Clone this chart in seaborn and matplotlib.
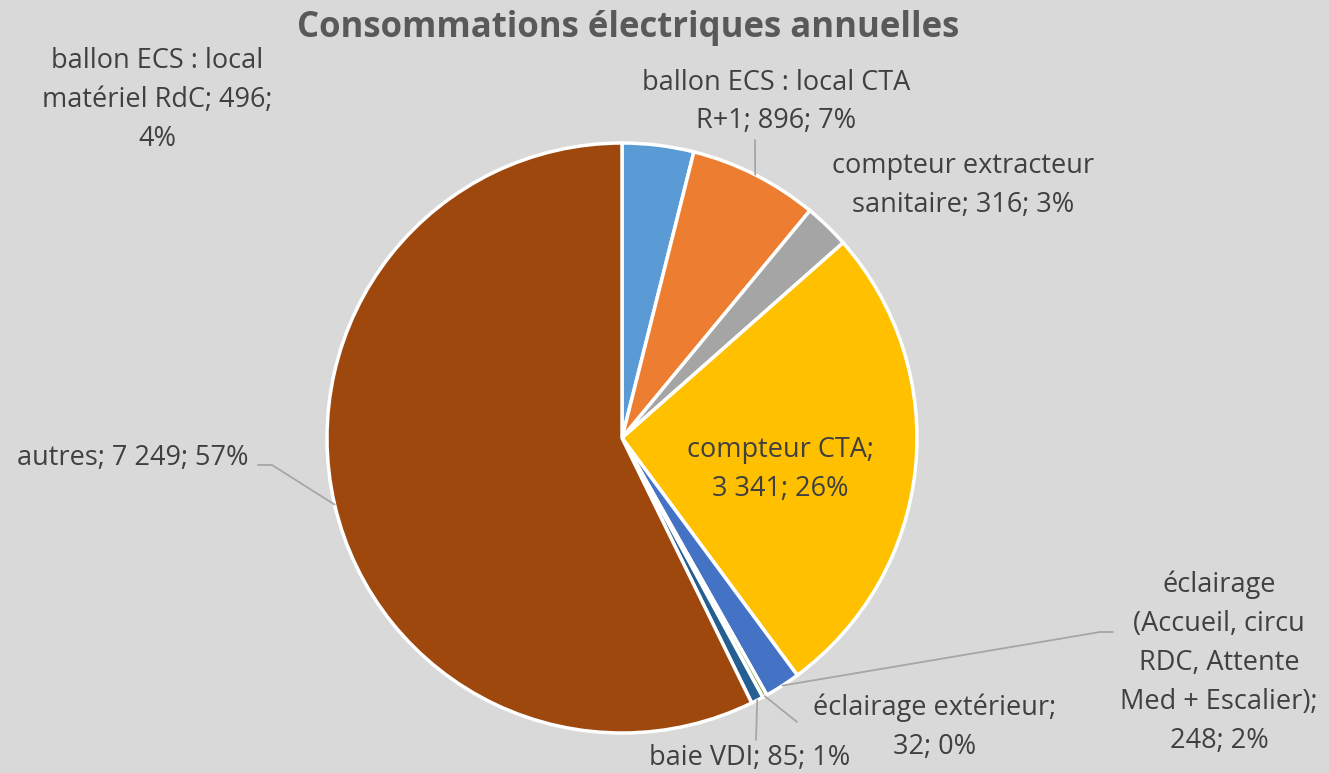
import numpy as np
import matplotlib.pyplot as plt
import seaborn as sns

# data
categories = [
    "ballon ECS : local\nmatériel RdC",
    "ballon ECS : local CTA\nR+1",
    "compteur extracteur\nsanitaire",
    "compteur CTA",
    "éclairage\n(Accueil, circu\nRDC, Attente\nMed + Escalier)",
    "éclairage extérieur",
    "baie VDI",
    "autres",
]
values = [496, 896, 316, 3341, 248, 32, 85, 7249]
colors = ["#5B9BD5", "#ED7D31", "#A5A5A5", "#FFC000",
          "#4472C4", "#70AD47", "#255E91", "#9E480E"]

# how each label is written (value text and percent as in the source)
label_texts = [
    "ballon ECS : local\nmatériel RdC; 496;\n4%",
    "ballon ECS : local CTA\nR+1; 896; 7%",
    "compteur extracteur\nsanitaire; 316; 3%",
    "compteur CTA;\n3 341; 26%",
    "éclairage\n(Accueil, circu\nRDC, Attente\nMed + Escalier);\n248; 2%",
    "éclairage extérieur;\n32; 0%",
    "baie VDI; 85; 1%",
    "autres; 7 249; 57%",
]

sns.set_theme(style="white")
plt.rcParams['font.family'] = ['Open Sans', 'DejaVu Sans']

W, H = 1329, 773
fig = plt.figure(figsize=(W / 100, H / 100), dpi=100)
fig.patch.set_facecolor("#D9D9D9")

cx, cy, r = 622, 773 - 438, 295
ax = fig.add_axes([(cx - r) / W, (cy - r) / H, 2 * r / W, 2 * r / H])
ax.set_facecolor("none")

wedges, _ = ax.pie(values, colors=colors, startangle=90, counterclock=False,
                   wedgeprops=dict(edgecolor="white", linewidth=2.5))
ax.set_xlim(-1, 1)
ax.set_ylim(-1, 1)
ax.set_aspect("equal")
ax.axis("off")

fig.text(628 / W, 1 - 28 / H, "Consommations électriques annuelles",
         ha="center", va="center", fontsize=25, fontweight="bold", color="#595959")

# label centres in pixels (x, y from top)
label_pos = [(157, 100), (776, 102), (963, 186), (780, 470),
             (1219, 663), (935, 727), (750, 758), (133, 458)]
# leader lines: label-side end point, then elbow point (None = no line)
leader_end = [None, (755, 140), None, None,
              (1113, 632), (797, 722), (756, 740), (258, 465)]
leader_elbow = [None, (755, 140), None, None,
                (1100, 632), (797, 722), (756, 740), (272, 465)]

txt_color = "#404040"
line_pitch = 39  # px between label lines, as in the reference
line_kw = dict(color="#A6A6A6", lw=1.3)
for i, (wedge, text) in enumerate(zip(wedges, label_texts)):
    x, y = label_pos[i]
    lines = text.split("\n")
    y0 = y - (len(lines) - 1) * line_pitch / 2
    for k, line in enumerate(lines):
        fig.text(x / W, 1 - (y0 + k * line_pitch) / H, line, ha="center",
                 va="center", fontsize=19.5, color=txt_color)
    if leader_end[i] is not None:
        ang = np.deg2rad((wedge.theta1 + wedge.theta2) / 2)
        px, py = cx + r * np.cos(ang), cy + r * np.sin(ang)
        ex, ey = leader_end[i]
        bx, by = leader_elbow[i]
        xs = np.array([ex, bx, px]) / W
        ys = np.array([H - ey, H - by, py]) / H
        fig.add_artist(plt.Line2D(xs, ys, transform=fig.transFigure, **line_kw))

fig.savefig("out.png", dpi=100, facecolor=fig.get_facecolor())
